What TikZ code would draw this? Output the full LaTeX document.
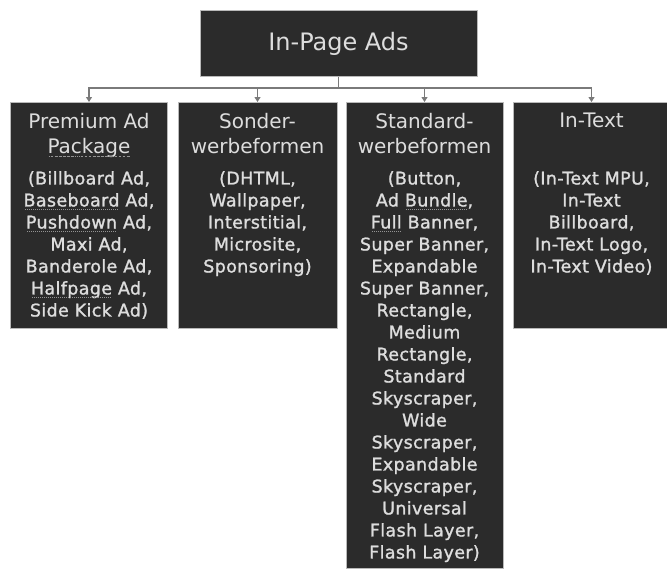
\documentclass[tikz,border=0pt]{standalone}
\usepackage{fontspec}
\setmainfont{DejaVu Sans}
\newfontfamily\listfont[FakeBold=1.3,LetterSpace=2]{DejaVu Sans}
\usetikzlibrary{arrows.meta}
\definecolor{boxfill}{HTML}{2B2B2B}
\definecolor{boxtext}{HTML}{DDDDDD}
\definecolor{wirecol}{HTML}{7A7A7A}
% word with a dotted grey underline
\newcommand\spellmark[1]{\leavevmode\setbox0=\hbox{#1}\rlap{\copy0}\raisebox{-3.5pt}[0pt][0pt]{\color{gray!85}\hbox to \wd0{\cleaders\hbox to 2pt{\hss\rule{1pt}{0.9pt}\hss}\hfill}}}
\begin{document}
\begin{tikzpicture}[x=1pt,y=-1pt,
  box/.style={draw=gray!55, line width=0.8pt, fill=boxfill, minimum width=157pt, inner sep=0pt, anchor=north},
  head/.style={text=boxtext, font=\fontsize{20}{25}\selectfont, align=center, anchor=north, inner sep=0pt},
  body/.style={text=boxtext, font=\listfont\fontsize{17.5}{22}\selectfont, align=center, anchor=north, inner sep=0pt},
  wire/.style={draw=wirecol, line width=1.1pt},
  feed/.style={wire, -{Triangle[length=5pt,width=6pt]}}]
\useasboundingbox (0,0) rectangle (667,570);

% root
\node[box, minimum width=277pt, minimum height=66pt, text=boxtext,
      font=\fontsize{24}{28}\selectfont] (top) at (338.5,10) {In-Page Ads};

% category boxes
\node[box, minimum height=226pt] (b1) at (89,102) {};
\node[box, minimum height=226pt, minimum width=159pt] (b2) at (257.5,102) {};
\node[box, minimum height=466pt] (b3) at (424.5,102) {};
\node[box, minimum height=226pt] (b4) at (591.5,102) {};

% connectors
\coordinate (bus) at (338.5,88);
\draw[wire] (top.south) -- (bus);
\draw[feed] (bus) -| (b1.north);
\draw[feed] (bus) -| (b2.north);
\draw[feed] (bus) -| (b3.north);
\draw[feed] (bus) -| (b4.north);

% headings
\node[head] (h1) at (89,113) {Premium Ad\\\spellmark{Package}};
\node[head] (h2) at (257.5,113) {Sonder-\\werbeformen};
\node[head] (h3) at (424.5,113) {Standard-\\werbeformen};
\node[head] (h4) at (591.5,113) {In-Text};

% item lists
\node[body] (t1) at (89,171) {(Billboard Ad,\\\spellmark{Baseboard} Ad,\\\spellmark{Pushdown} Ad,\\Maxi Ad,\\Banderole Ad,\\\spellmark{Halfpage} Ad,\\Side Kick Ad)};
\node[body] (t2) at (257.5,171) {(DHTML,\\Wallpaper,\\Interstitial,\\Microsite,\\Sponsoring)};
\node[body] (t3) at (424.5,171) {(Button,\\Ad \spellmark{Bundle},\\\spellmark{Full} Banner,\\Super Banner,\\Expandable\\Super Banner,\\Rectangle,\\Medium\\Rectangle,\\Standard\\Skyscraper,\\Wide\\Skyscraper,\\Expandable\\Skyscraper,\\Universal\\Flash Layer,\\Flash Layer)};
\node[body] (t4) at (591.5,171) {(In-Text MPU,\\In-Text\\Billboard,\\In-Text Logo,\\In-Text Video)};
\end{tikzpicture}
\end{document}
